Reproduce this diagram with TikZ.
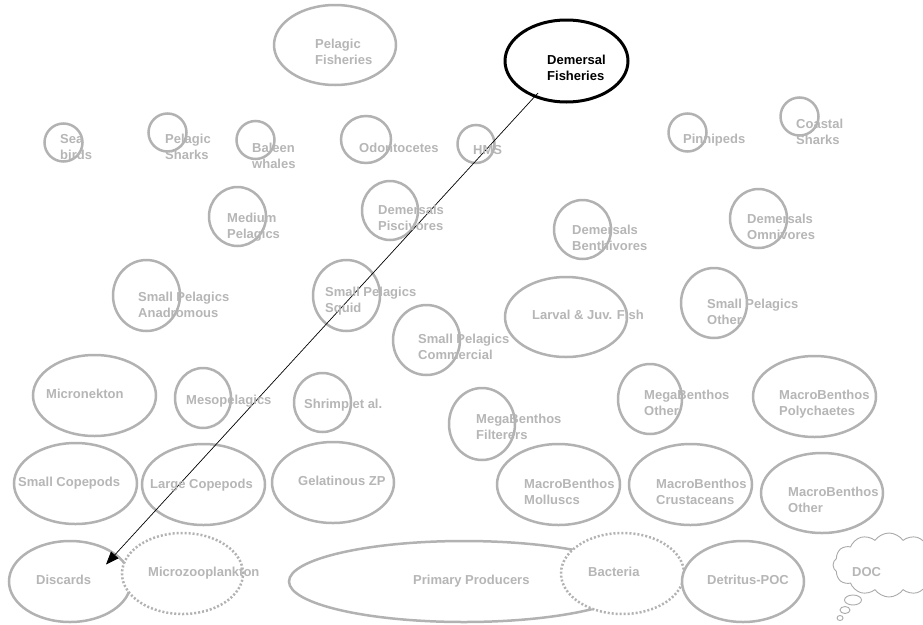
\documentclass[tikz,border=0pt]{standalone}
\usepackage{fontspec}
\setmainfont{Liberation Sans}
\usetikzlibrary{shapes.geometric,shapes.symbols,arrows.meta,calc}
\definecolor{pgray}{RGB}{182,182,182}
\definecolor{lgray}{RGB}{178,178,178}
\definecolor{cgray}{RGB}{170,170,170}
\tikzset{
  sz/.style 2 args={minimum width=#1pt, minimum height=#2pt},
  ell/.style={ellipse, draw=lgray, line width=2.5pt, fill=white, inner sep=0pt, outer sep=0pt},
  dotell/.style={ell, dash pattern=on 2pt off 2pt, line cap=butt},
  blackell/.style={ellipse, draw=black, line width=3pt, fill=white, inner sep=0pt, outer sep=0pt},
  lbl/.style={text=pgray, font=\fontsize{13}{16}\selectfont\bfseries, align=left, inner sep=0pt, anchor=base west},
  bubble/.style={ellipse, draw=cgray, line width=0.9pt, fill=white, inner sep=0pt},
}
\begin{document}
\begin{tikzpicture}[x=1pt, y=-1pt]
\path[use as bounding box, clip] (0,0) rectangle (923,624);
% shapes
\node[ell, sz={122}{80}] (pf) at (335,45) {};
\node[blackell, sz={123}{82}] (dem) at (566.5,61) {};
\node[ell, sz={38}{38}] (sb) at (63.5,142.5) {};
\node[ell, sz={38}{38}] (ps) at (167.5,132.5) {};
\node[ell, sz={38}{38}] (bw) at (255.5,140) {};
\node[ell, sz={50}{47}] (od) at (366,139.5) {};
\node[ell, sz={37}{38}] (hms) at (476,144) {};
\node[ell, sz={38}{38}] (pin) at (687.5,132.5) {};
\node[ell, sz={38}{38}] (cs) at (799.5,116.5) {};
\node[ell, sz={57}{59}] (mp) at (237.5,216.5) {};
\node[ell, sz={56}{59}] (dp) at (390,210.5) {};
\node[ell, sz={57}{59}] (db) at (582.5,229.5) {};
\node[ell, sz={57}{59}] (do) at (758.5,218.5) {};
\node[ell, sz={67}{71}] (spa) at (146.5,295.5) {};
\node[ell, sz={67}{71}] (sps) at (346.5,295.5) {};
\node[ell, sz={67}{70}] (spc) at (426.5,340) {};
\node[ell, sz={122}{80}] (lj) at (566,317) {};
\node[ell, sz={66}{70}] (spo) at (714,303) {};
\node[ell, sz={123}{81}] (mn) at (94.5,395.5) {};
\node[ell, sz={56}{60}] (mes) at (203,398) {};
\node[ell, sz={57}{59}] (sh) at (322.5,402.5) {};
\node[ell, sz={66}{72}] (mbf) at (482,424) {};
\node[ell, sz={64}{70}] (mbo) at (650,399) {};
\node[ell, sz={123}{81}] (mbp) at (814.5,396.5) {};
\node[ell, sz={123}{81}] (sc) at (75.5,483.5) {};
\node[ell, sz={123}{81}] (lc) at (203.5,484.5) {};
\node[ell, sz={122}{81}] (gz) at (333,482.5) {};
\node[ell, sz={123}{81}] (mbm) at (558.5,484.5) {};
\node[ell, sz={123}{81}] (mbc) at (690.5,484.5) {};
\node[ell, sz={122}{80}] (mbx) at (822,493) {};
\node[ell, sz={122}{81}] (disc) at (70,581.5) {};
\node[dotell, sz={121}{81}] (mz) at (182.5,573.5) {};
\node[ell, sz={350}{81}] (pp) at (464,581.5) {};
\node[dotell, sz={123}{81}] (bac) at (622.5,573.5) {};
\node[ell, sz={122}{81}] (det) at (743,581.5) {};
\node[cloud, cloud puffs=12, cloud puff arc=110, aspect=1.7, draw=cgray, line width=0.9pt, fill=white, sz={112}{64}, inner sep=0pt] (doc) at (889,565) {};
\node[bubble, sz={17}{10}] (b1) at (853,600) {};
\node[bubble, sz={10}{7}] (b2) at (845,610) {};
\node[bubble, sz={6}{5}] (b3) at (840,618) {};
% arrow
\draw[line width=0.7pt, -{Triangle[length=13pt,width=10pt]}] ($(dem)+(-28.5,32)$) -- ($(disc)+(36,-17)$);
% labels (base = baseline of last line)
\node[lbl] (tpf) at (315,64) {Pelagic\\Fisheries};
\node[lbl, text=black] (tdem) at (547,80) {Demersal\\Fisheries};
\node[lbl] (tsb) at (60,159) {Sea\\birds};
\node[lbl] (tps) at (165,159) {Pelagic\\Sharks};
\node[lbl] (tbw) at (252,168) {Baleen\\whales};
\node[lbl] (tod) at (359,152) {Odontocetes};
\node[lbl] (thms) at (473,154) {HMS};
\node[lbl] (tpin) at (683,143) {Pinnipeds};
\node[lbl] (tcs) at (796,144) {Coastal\\Sharks};
\node[lbl] (tmp) at (227,238) {Medium\\Pelagics};
\node[lbl] (tdp) at (378,230) {Demersals\\Piscivores};
\node[lbl] (tdb) at (572,250) {Demersals\\Benthivores};
\node[lbl] (tdo) at (747,239) {Demersals\\Omnivores};
\node[lbl] (tspa) at (138,317) {Small Pelagics\\Anadromous};
\node[lbl] (tsps) at (325,312) {Small Pelagics\\Squid};
\node[lbl] (tspc) at (418,359) {Small Pelagics\\Commercial};
\node[lbl] (tlj) at (532,319) {Larval \& Juv. Fish};
\node[lbl] (tspo) at (707,324) {Small Pelagics\\Other};
\node[lbl] (tmn) at (46,398) {Micronekton};
\node[lbl] (tmes) at (186,404) {Mesopelagics};
\node[lbl] (tsh) at (304,408) {Shrimp et al.};
\node[lbl] (tmbf) at (476,439) {MegaBenthos\\Filterers};
\node[lbl] (tmbo) at (644,415) {MegaBenthos\\Other};
\node[lbl] (tmbp) at (779,415) {MacroBenthos\\Polychaetes};
\node[lbl] (tsc) at (18,486) {Small Copepods};
\node[lbl] (tlc) at (150,488) {Large Copepods};
\node[lbl] (tgz) at (298,485) {Gelatinous ZP};
\node[lbl] (tmbm) at (524,504) {MacroBenthos\\Molluscs};
\node[lbl] (tmbc) at (656,504) {MacroBenthos\\Crustaceans};
\node[lbl] (tmbx) at (788,512) {MacroBenthos\\Other};
\node[lbl] (tdisc) at (36,584) {Discards};
\node[lbl] (tmz) at (148,576) {Microzooplankton};
\node[lbl] (tpp) at (413,584) {Primary Producers};
\node[lbl] (tbac) at (588,576) {Bacteria};
\node[lbl] (tdet) at (707,584) {Detritus-POC};
\node[lbl] (tdoc) at (852,576) {DOC};
\end{tikzpicture}
\end{document}
